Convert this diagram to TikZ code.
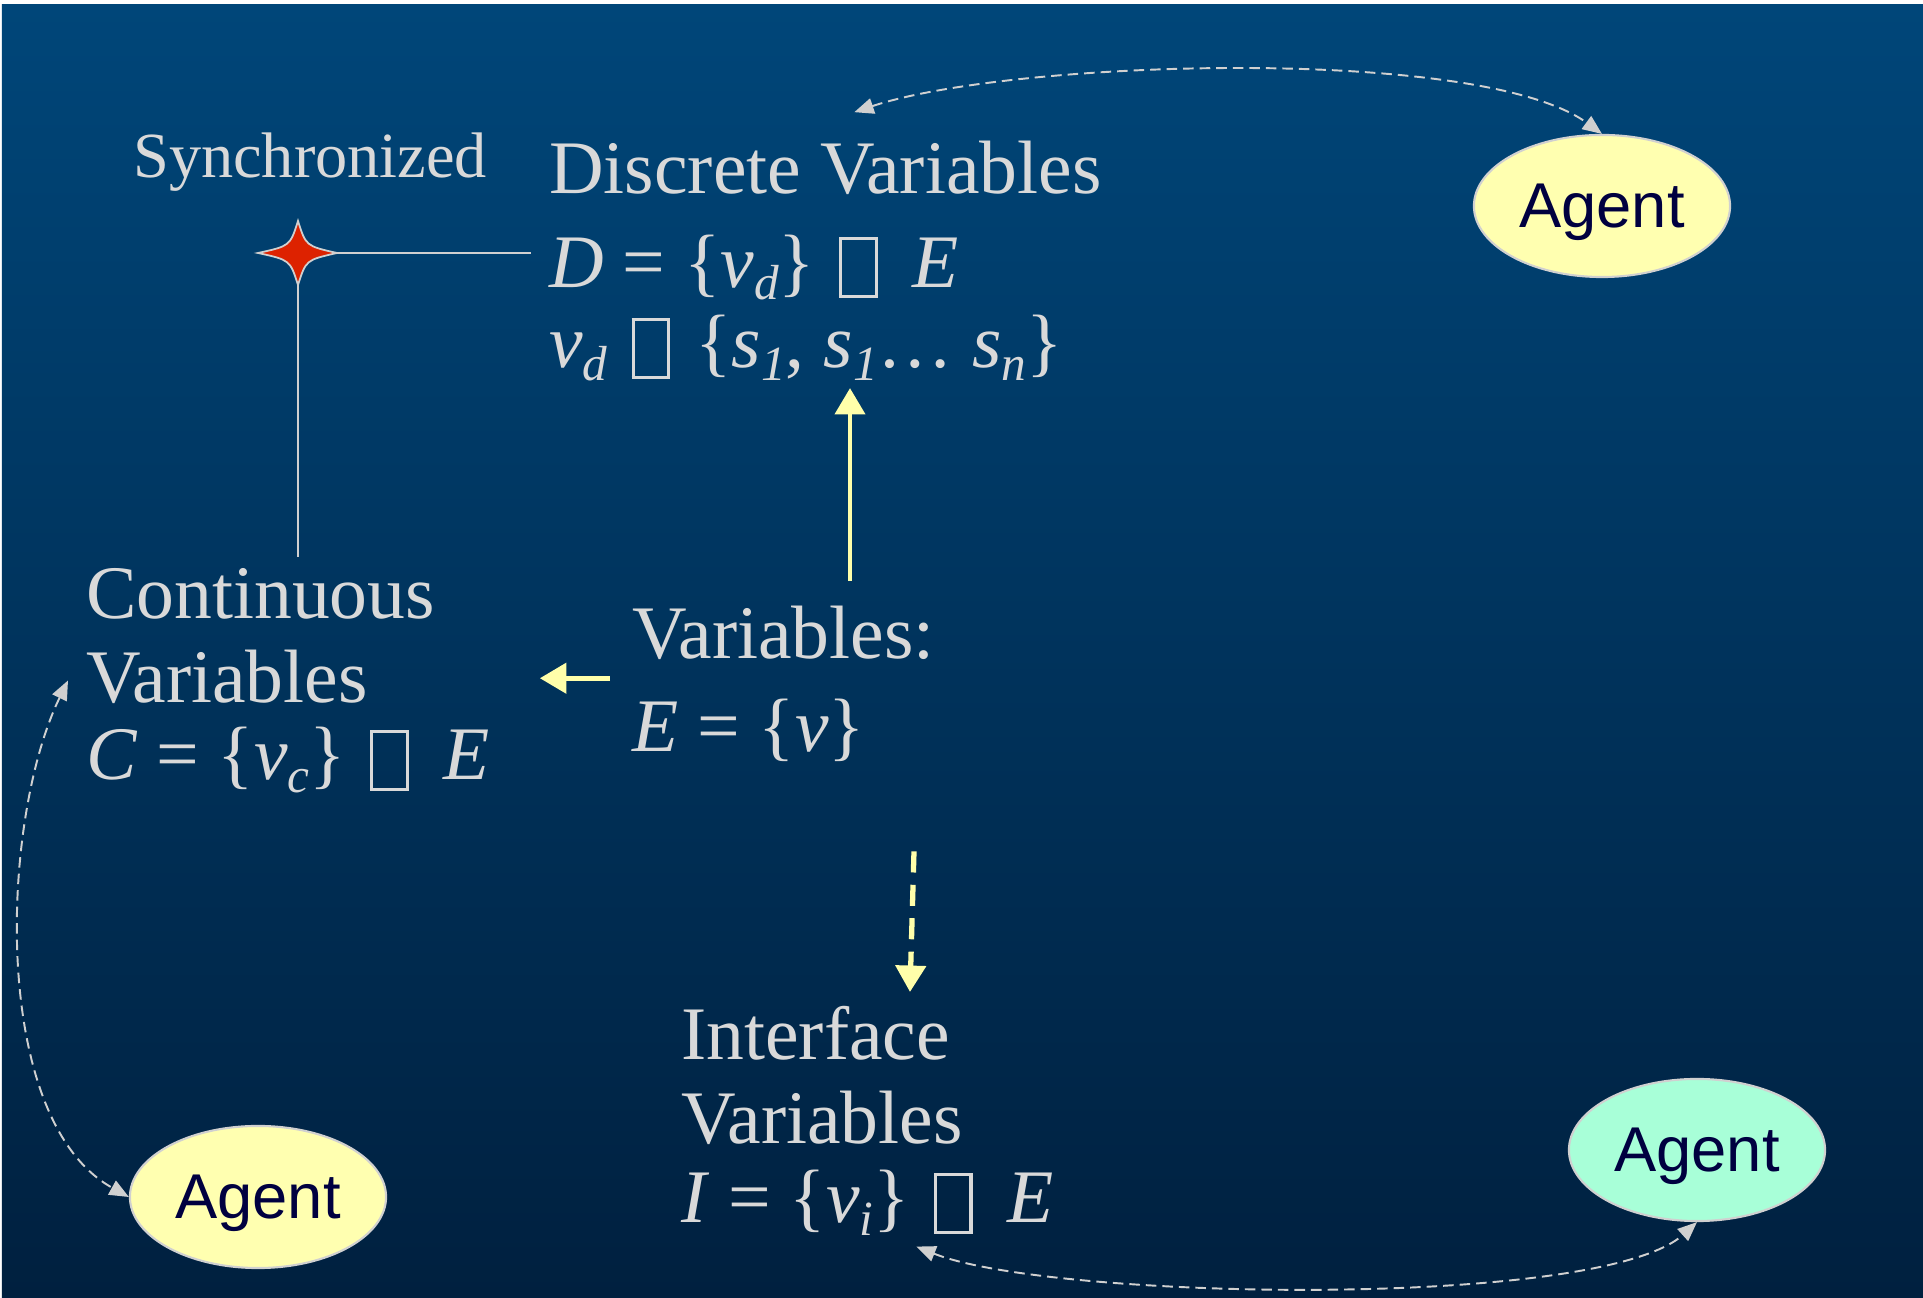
\documentclass[tikz,border=0pt]{standalone}
\usepackage{fontspec}
\setmainfont{Liberation Serif}
\newfontfamily\agentfont{Liberation Sans}
\usetikzlibrary{positioning,arrows.meta,calc,shapes.geometric}

\definecolor{bgtop}{HTML}{004679}
\definecolor{bgbot}{HTML}{00203F}
\definecolor{txtgray}{HTML}{D9D9D9}
\definecolor{linkgray}{HTML}{D0D0D0}
\definecolor{paleyellow}{HTML}{FFFFAA}
\definecolor{agentyellow}{HTML}{FFFFB0}
\definecolor{agentmint}{HTML}{A8FFD8}
\definecolor{agentnavy}{HTML}{000040}
\definecolor{syncred}{HTML}{DD2200}

% the glyph that the source font could not show
\newcommand{\blankglyph}{{\setlength{\fboxsep}{0pt}\setlength{\fboxrule}{0.9pt}%
  \hspace{1.5pt}\raisebox{-2.2pt}{\framebox{\rule{0pt}{15.5pt}\hspace{9.2pt}}}\hspace{1.5pt}}}
\newcommand{\lowsub}[1]{\raisebox{-3.5pt}{\fontsize{14}{14}\selectfont\itshape #1}}

\begin{document}
\begin{tikzpicture}[
    x=0.01cm, y=-0.01cm,
    txt/.style={
        text=txtgray,
        inner sep=5pt,
        anchor=base west,
        align=left,
        font=\fontsize{21.5}{24}\selectfont
    },
    agent/.style={
        ellipse,
        draw=linkgray,
        line width=0.6pt,
        inner sep=0pt,
        text depth=0pt,
        minimum width=2.56cm,
        minimum height=1.42cm,
        text=agentnavy,
        font=\agentfont\fontsize{18}{20}\selectfont
    },
    yarrow/.style={
        draw=paleyellow,
        line width=1.3pt,
        -{Triangle[width=8.5pt,length=7.5pt]}
    },
    link/.style={
        draw=linkgray,
        line width=0.55pt,
        dash pattern=on 3pt off 1.7pt,
        {Triangle[width=4.5pt,length=5.5pt]}-{Triangle[width=4.5pt,length=5.5pt]}
    },
    syncline/.style={
        draw=linkgray,
        line width=0.55pt
    }
]
\useasboundingbox (0,0) rectangle (1923,1298);

% background
\fill[white] (0,0) rectangle (1923,1298);
\shade[top color=bgtop, bottom color=bgbot] (2,5) rectangle (1923,1298);

% text blocks (a block's base is the baseline of its last line)
\node[txt, font=\fontsize{18.3}{20}\selectfont] (synclabel) at (115,178) {Synchronized};

\node[txt] (disc) at (531,368)
{Discrete Variables\\[2.5pt]
\textit{D} = \{\textit{v}\lowsub{d}\} \blankglyph{} \hspace{3pt}\textit{E}\\[-1pt]
\textit{v}\lowsub{d} \blankglyph{}\hspace{5.7pt}\{\textit{s}\lowsub{1}, \textit{s}\lowsub{1}\dots{} \textit{s}\lowsub{n}\}};

\node[txt] (cont) at (68,780)
{Continuous\\
Variables\\[-2pt]
\textit{C} = \{\textit{v}\lowsub{c}\} \blankglyph{} \hspace{3pt}\textit{E}};

\node[txt] (vars) at (614,752)
{Variables:\\[2.5pt]
\textit{E} = \{\textit{v}\}};

\node[txt] (intf) at (663,1223)
{Interface\\
Variables\\[-1.5pt]
\textit{I} = \{\textit{v}\lowsub{i}\} \blankglyph{} \hspace{3pt}\textit{E}};

% agents
\node[agent, fill=agentyellow] (agenttop) at (1602,206) {Agent};
\node[agent, fill=agentyellow] (agentleft) at (258,1197) {Agent};
\node[agent, fill=agentmint] (agentright) at (1697,1150) {Agent};

% synchronization star
\coordinate (sync) at (298,253);
\coordinate (syncE) at (337,253);
\coordinate (syncS) at (298,285);
\draw[syncline] (syncE) -- (disc.west |- syncE);
\draw[syncline] (syncS) -- ($(syncS |- cont.north)+(0,7)$);
\fill[syncred, draw=linkgray, line width=0.5pt]
    (258,253) .. controls (290,246) .. (298,221)
    .. controls (306,246) .. (337,253)
    .. controls (306,260) .. (298,285)
    .. controls (290,260) .. cycle;

% variable arrows
\draw[yarrow] ($(vars.west)+(-4,-6)$) -- ($(cont.east |- vars.west)+(32,-6)$);
\draw[yarrow] ($(vars.north -| 850,0)+(0,-7)$) -- ($(disc.south -| 850,0)+(0,-11)$);
\draw[yarrow, line width=1.5pt, dash pattern=on 6pt off 3.5pt] ($(vars.south -| 914,0)+(0,71)$) -- ($(intf.north -| 910,0)+(0,4)$);

% agent links
\draw[link] ($(disc.north)+(29,-11)$) .. controls (1010,60) and (1480,45) .. (agenttop.north);
\draw[link] (cont.west) .. controls (0,820) and (-10,1120) .. (agentleft.west);
\draw[link] ($(intf.south)+(49,-7)$) .. controls (1050,1300) and (1600,1310) .. (agentright.south);

\end{tikzpicture}
\end{document}
